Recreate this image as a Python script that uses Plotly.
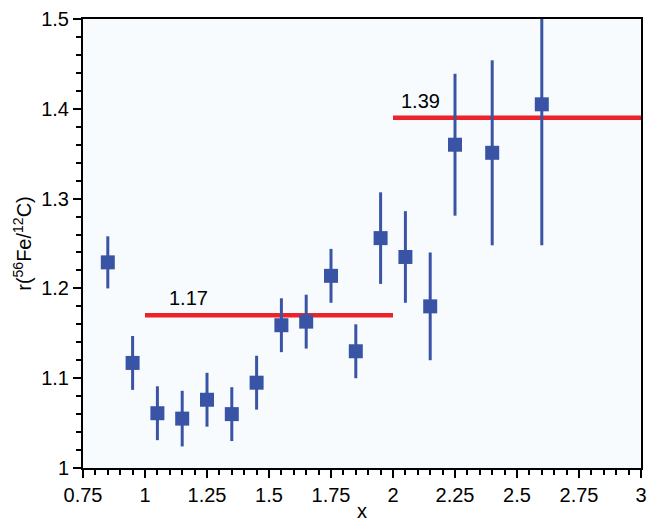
import plotly.graph_objects as go

x_vals = [0.85, 0.95, 1.05, 1.15, 1.25, 1.35, 1.45, 1.55, 1.65, 1.75, 1.85, 1.95, 2.05, 2.15, 2.25, 2.40, 2.60]
r_vals = [1.229, 1.117, 1.061, 1.055, 1.076, 1.060, 1.095, 1.159, 1.163, 1.214, 1.130, 1.256, 1.235, 1.180, 1.360, 1.351, 1.405]
r_errs = [0.029, 0.030, 0.030, 0.031, 0.030, 0.030, 0.030, 0.030, 0.030, 0.030, 0.030, 0.051, 0.051, 0.060, 0.079, 0.103, 0.157]

fit_ranges = [(1.0, 2.0), (2.0, 3.0)]
fit_values = [1.17, 1.39]
fit_labels = ["1.17", "1.39"]
label_x = [1.09, 2.025]

FONT = "Liberation Sans, Arial, Helvetica, sans-serif"

fig = go.Figure()

for (x0, x1), v in zip(fit_ranges, fit_values):
    fig.add_trace(go.Scatter(x=[x0, x1], y=[v, v], mode="lines",
                             line=dict(color="#ee2229", width=4.5), showlegend=False, hoverinfo="skip"))

fig.add_trace(go.Scatter(
    x=x_vals, y=r_vals, mode="markers",
    marker=dict(symbol="square", size=14, color="#3a54a5"),
    error_y=dict(type="data", array=r_errs, visible=True, thickness=3, width=0, color="#3a54a5"),
    showlegend=False,
))

for lx, v, lab in zip(label_x, fit_values, fit_labels):
    fig.add_annotation(x=lx, y=v, text=lab, showarrow=False, xanchor="left", yanchor="bottom",
                       yshift=4, font=dict(size=20, color="black", family=FONT))

fig.update_layout(
    width=658, height=522,
    margin=dict(l=83, r=17, t=19, b=54),
    paper_bgcolor="white",
    plot_bgcolor="#f7fbfe",
    font=dict(family=FONT, size=20, color="black"),
)
fig.update_xaxes(
    range=[0.75, 3.0], tickmode="array",
    tickvals=[0.75, 1, 1.25, 1.5, 1.75, 2, 2.25, 2.5, 2.75, 3],
    ticktext=["0.75", "1", "1.25", "1.5", "1.75", "2", "2.25", "2.5", "2.75", "3"],
    tickfont=dict(size=20, family=FONT),
    ticks="outside", ticklen=8, tickwidth=2, tickcolor="black",
    minor=dict(dtick=0.05, tick0=0.75, ticks="outside", ticklen=5, tickwidth=1.5, tickcolor="black"),
    showline=True, linewidth=2, linecolor="black", mirror=True,
    showgrid=False, zeroline=False, automargin=False,
    title=dict(text="x", standoff=0, font=dict(size=20, family=FONT)),
)
fig.update_yaxes(
    range=[1.0, 1.5], tickmode="array",
    tickvals=[1.0, 1.1, 1.2, 1.3, 1.4, 1.5],
    ticktext=["1", "1.1", "1.2", "1.3", "1.4", "1.5"],
    tickfont=dict(size=20, family=FONT),
    ticks="outside", ticklen=8, tickwidth=2, tickcolor="black",
    minor=dict(dtick=0.02, tick0=1.0, ticks="outside", ticklen=5, tickwidth=1.5, tickcolor="black"),
    showline=True, linewidth=2, linecolor="black", mirror=True,
    showgrid=False, zeroline=False, automargin=False,
    title=dict(text="r(<sup>56</sup>Fe/<sup>12</sup>C)", standoff=4, font=dict(size=20, family=FONT)),
)

fig.write_html("out.html", config={"displayModeBar": False},
               post_script="document.body.style.margin='0';")
